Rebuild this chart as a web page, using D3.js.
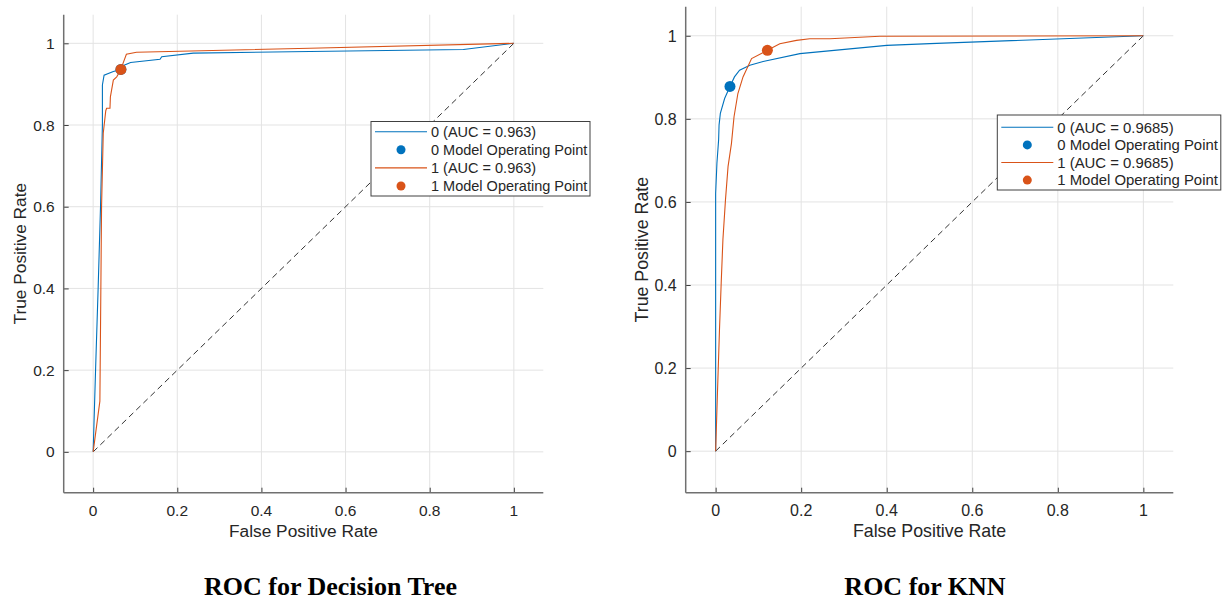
<!DOCTYPE html>
<html>
<head>
<meta charset="utf-8">
<script src="https://cdn.jsdelivr.net/npm/d3@7"></script>
<style>
  body { margin: 0; background: #fff; }
  svg { display: block; }
  text { font-family: "Liberation Sans", Arial, Helvetica, sans-serif; fill: #262626; }
  .title { font-family: "Liberation Serif", "Times New Roman", serif; font-weight: bold; fill: #000; }
</style>
</head>
<body>
<div id="chart"></div>
<script>

// ---- data ----
var ticks = [0, 0.2, 0.4, 0.6, 0.8, 1];
var diagonal = [[0, 0], [1, 1]];

// Decision Tree, class 0 (blue)
var dtFpr0 = [0, 0.006, 0.012, 0.0175, 0.022, 0.022, 0.026, 0.048, 0.066, 0.075, 0.089, 0.159, 0.163, 0.238, 0.515, 0.88, 1];
var dtTpr0 = [0, 0.209, 0.405, 0.60, 0.80, 0.898, 0.922, 0.931, 0.936, 0.947, 0.953, 0.961, 0.967, 0.976, 0.980, 0.985, 1];
// Decision Tree, class 1 (orange)
var dtFpr1 = [0, 0.016, 0.020, 0.024, 0.030, 0.032, 0.040, 0.041, 0.048, 0.056, 0.066, 0.071, 0.079, 0.103, 0.515, 1];
var dtTpr1 = [0, 0.124, 0.60, 0.78, 0.835, 0.841, 0.841, 0.869, 0.910, 0.918, 0.936, 0.951, 0.973, 0.978, 0.988, 1];
var dtOp0 = [0.066, 0.936];
var dtOp1 = [0.066, 0.936];
var dtLabels = ["0 (AUC = 0.963)", "0 Model Operating Point", "1 (AUC = 0.963)", "1 Model Operating Point"];

// KNN, class 0 (blue)
var knnFpr0 = [0, 0, 0.003, 0.007, 0.008, 0.011, 0.021, 0.0335, 0.044, 0.056, 0.080, 0.111, 0.197, 0.40, 0.501, 1];
var knnTpr0 = [0, 0.62, 0.693, 0.75, 0.785, 0.813, 0.849, 0.878, 0.901, 0.917, 0.929, 0.938, 0.957, 0.977, 0.981, 1];
// KNN, class 1 (orange)
var knnFpr1 = [0, 0.004, 0.009, 0.013, 0.017, 0.023, 0.029, 0.037, 0.043, 0.052, 0.064, 0.084, 0.121, 0.150, 0.189, 0.220, 0.267, 0.384, 1];
var knnTpr1 = [0, 0.133, 0.293, 0.405, 0.509, 0.605, 0.685, 0.741, 0.805, 0.861, 0.901, 0.945, 0.965, 0.981, 0.989, 0.993, 0.993, 0.999, 1];
var knnOp0 = [0.0335, 0.878];
var knnOp1 = [0.121, 0.965];
var knnLabels = ["0 (AUC = 0.9685)", "0 Model Operating Point", "1 (AUC = 0.9685)", "1 Model Operating Point"];

var colors = ["#0072BD", "#D95319"];

var svg = d3.select("#chart").append("svg")
    .attr("width", 1223)
    .attr("height", 602);

function zip(xs, ys) {
    return xs.map(function (d, i) { return [d, ys[i]]; });
}

function drawRoc(cfg) {
    var x = d3.scaleLinear().domain([-0.07, 1.07]).range([cfg.left, cfg.right]);
    var y = d3.scaleLinear().domain([-0.1, 1.07]).range([cfg.bottom, cfg.top]);
    var g = svg.append("g");

    // grid
    g.selectAll(".vgrid").data(ticks).enter().append("line")
        .attr("x1", function (d) { return x(d); }).attr("x2", function (d) { return x(d); })
        .attr("y1", cfg.top).attr("y2", cfg.bottom)
        .attr("stroke", "#e3e3e3").attr("stroke-width", 1);
    g.selectAll(".hgrid").data(ticks).enter().append("line")
        .attr("y1", function (d) { return y(d); }).attr("y2", function (d) { return y(d); })
        .attr("x1", cfg.left).attr("x2", cfg.right)
        .attr("stroke", "#e3e3e3").attr("stroke-width", 1);

    // axes (ticks inward)
    var xAxis = g.append("g").attr("transform", "translate(0," + cfg.bottom + ")")
        .call(d3.axisTop(x).tickValues(ticks).tickSize(5).tickFormat(""));
    var yAxis = g.append("g").attr("transform", "translate(" + cfg.left + ",0)")
        .call(d3.axisRight(y).tickValues(ticks).tickSize(5).tickFormat(""));
    [xAxis, yAxis].forEach(function (a) {
        a.select(".domain").remove();
        a.selectAll("line").attr("stroke", "#404040");
    });
    g.append("line").attr("x1", cfg.left).attr("x2", cfg.right)
        .attr("y1", cfg.bottom).attr("y2", cfg.bottom)
        .attr("stroke", "#707070").attr("stroke-width", 1.5);
    g.append("line").attr("x1", cfg.left).attr("x2", cfg.left)
        .attr("y1", cfg.top).attr("y2", cfg.bottom)
        .attr("stroke", "#707070").attr("stroke-width", 1.5);

    // tick labels
    g.selectAll(".xl").data(ticks).enter().append("text")
        .attr("x", function (d) { return x(d); })
        .attr("y", cfg.bottom + 23)
        .attr("text-anchor", "middle")
        .style("font-size", cfg.tickSize + "px")
        .text(function (d) { return d; });
    g.selectAll(".yl").data(ticks).enter().append("text")
        .attr("x", cfg.left - 9)
        .attr("y", function (d) { return y(d) + cfg.tickSize * 0.36; })
        .attr("text-anchor", "end")
        .style("font-size", cfg.tickSize + "px")
        .text(function (d) { return d; });

    // axis labels
    g.append("text")
        .attr("x", (cfg.left + cfg.right) / 2)
        .attr("y", cfg.bottom + 44)
        .attr("text-anchor", "middle")
        .style("font-size", cfg.labelSize + "px")
        .text("False Positive Rate");
    g.append("text")
        .attr("transform", "translate(" + (cfg.left - 38) + "," + ((cfg.top + cfg.bottom) / 2) + ") rotate(-90)")
        .attr("text-anchor", "middle")
        .style("font-size", cfg.labelSize + "px")
        .text("True Positive Rate");

    var line = d3.line().x(function (d) { return x(d[0]); }).y(function (d) { return y(d[1]); });

    // diagonal
    g.append("path").datum(diagonal).attr("d", line)
        .attr("fill", "none").attr("stroke", "#333").attr("stroke-width", 1)
        .attr("stroke-dasharray", "6,4");

    // curves
    cfg.curves.forEach(function (c, i) {
        g.append("path").datum(c).attr("d", line)
            .attr("fill", "none").attr("stroke", colors[i]).attr("stroke-width", 1.1);
    });
    cfg.points.forEach(function (p, i) {
        g.append("circle").attr("cx", x(p[0])).attr("cy", y(p[1])).attr("r", 5.5)
            .attr("fill", colors[i]);
    });

    // legend
    var L = cfg.legend;
    var lg = g.append("g");
    lg.append("rect").attr("x", L.x).attr("y", L.y).attr("width", L.w).attr("height", L.h)
        .attr("fill", "#fff").attr("stroke", "#404040").attr("stroke-width", 1);
    cfg.labels.forEach(function (lab, i) {
        var cy = L.y + L.first + i * L.step;
        var col = colors[Math.floor(i / 2)];
        if (i % 2 === 0) {
            lg.append("line").attr("x1", L.x + 4).attr("x2", L.x + 56)
                .attr("y1", cy).attr("y2", cy).attr("stroke", col).attr("stroke-width", 1.1);
        } else {
            lg.append("circle").attr("cx", L.x + 30).attr("cy", cy).attr("r", 4.5).attr("fill", col);
        }
        lg.append("text").attr("x", L.x + 60).attr("y", cy + L.font * 0.36)
            .style("font-size", L.font + "px").text(lab);
    });

    // title
    svg.append("text").attr("class", "title")
        .attr("x", cfg.titleX).attr("y", 595)
        .attr("text-anchor", "middle")
        .style("font-size", "26px")
        .text(cfg.title);
}

drawRoc({
    left: 63.7, right: 543.3, top: 14.7, bottom: 492.7,
    tickSize: 15.5, labelSize: 17.3,
    curves: [zip(dtFpr0, dtTpr0), zip(dtFpr1, dtTpr1)],
    points: [dtOp0, dtOp1],
    labels: dtLabels,
    legend: { x: 371, y: 121.5, w: 219, h: 74.5, first: 10.2, step: 18.1, font: 14.5 },
    title: "ROC for Decision Tree", titleX: 330.5
});

drawRoc({
    left: 685.7, right: 1173.3, top: 6.7, bottom: 492.7,
    tickSize: 16, labelSize: 17.8,
    curves: [zip(knnFpr0, knnTpr0), zip(knnFpr1, knnTpr1)],
    points: [knnOp0, knnOp1],
    labels: knnLabels,
    legend: { x: 997.3, y: 115, w: 223.5, h: 75, first: 12.3, step: 17.6, font: 14.9 },
    title: "ROC for KNN", titleX: 925
});
</script>
</body>
</html>
